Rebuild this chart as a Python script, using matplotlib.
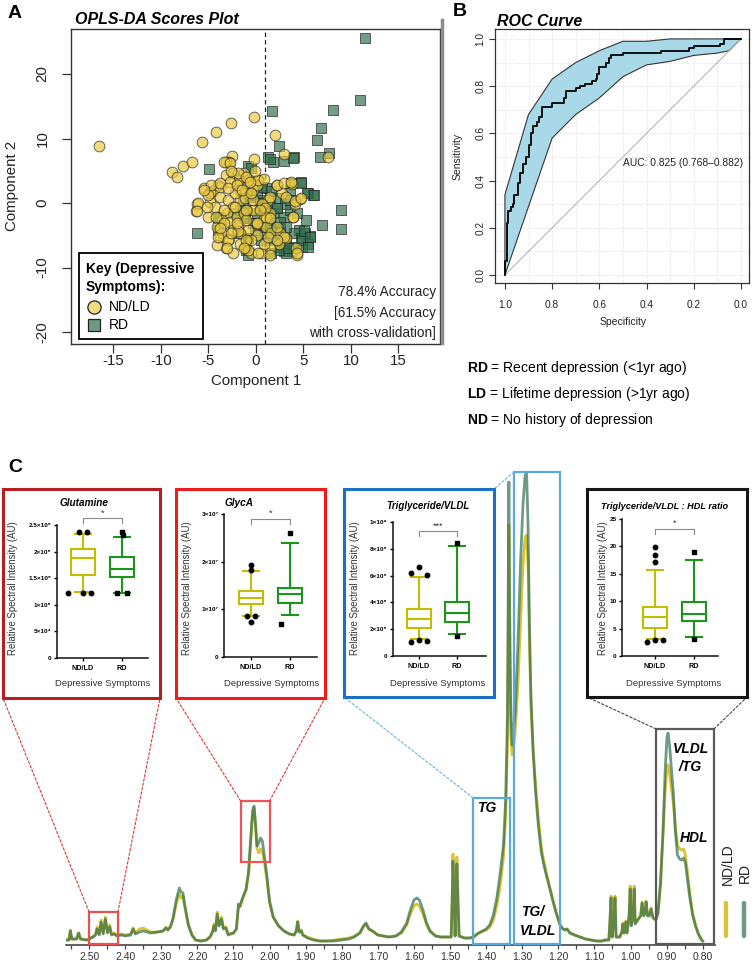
import matplotlib
matplotlib.use('Agg')
import matplotlib.pyplot as plt
from matplotlib.patches import Rectangle, ConnectionPatch
from matplotlib.lines import Line2D
import numpy as np

plt.rcParams['font.family'] = ['Liberation Sans', 'DejaVu Sans']
plt.rcParams['mathtext.fontset'] = 'custom'
plt.rcParams['mathtext.rm'] = 'Liberation Sans'
plt.rcParams['mathtext.bf'] = 'Liberation Sans:bold'
plt.rcParams['mathtext.it'] = 'Liberation Sans:italic'

# ---------------- DATA ----------------
# Panel A: OPLS-DA scores
ndld_x = [-16.5,-8.8,-8.3,-7.7,-6.7,-5.7,-4.2,-2.6,-0.2,2.0,2.9,-0.2,-2.5,-2.8,-3.2,-3.2,7.6,3.8,2.2,4.6,
          4.1,3.9,4.3,4.2,0.5,-0.5,-1.2,-3.2,-3.8,-2.8,-4.1,-5.1,-6.2,-6.3,-5.5,-4.8,-4.0,-4.5,-3.8,-2.9,
          -2.0,-1.3,-2.4,-1.8,-0.8,0.2,-0.3,-1.0,-1.7,-2.4,-3.1,-3.6,-2.7,-2.0,-1.3,-0.3,0.1,0.8,1.3,1.5,
          1.1,1.6,2.5,3.2,2.4,1.5,0.1,-0.8,-1.7,-2.4,-1.9,-1.0,-0.5,0.8,-3.8,-2.7,-1.7,-1.2,-4.8,-4.3,
          -3.4,-2.2,-0.3,0.6,0.9,0.1,2.7,3.2,-2.4,-1.7,-4.1,-3.6,
          -3.4,-2.7,-1.9,-1.0,0.2,-4.7,-3.8,-2.9,-2.0,-1.5,-0.5,-6.1,-6.2,-5.2,-4.2,-3.4,-4.0,-2.9,-1.9,-1.0,
          0.1,1.1,1.5,2.2,3.0,3.7,4.1,4.7,3.9,2.9,4.3,1.5,0.2,-0.8,-1.3,-3.1,-3.8,-5.0,-5.5,-2.6,
          -0.6,-0.1,0.8,-2.2,-1.0,0.4,1.5,2.2,-2.0,-2.6,1.3,2.2]
ndld_y = [8.9,4.8,4.1,5.8,6.3,9.4,11.0,12.4,13.3,10.5,7.6,6.8,7.3,6.3,6.3,4.3,7.2,3.0,2.8,0.6,
          -0.2,-2.1,-8.1,-7.0,-7.7,-7.8,-6.8,-7.0,-5.3,-5.6,-3.7,-2.1,-0.2,-1.2,2.3,0.1,2.8,1.9,1.0,0.5,
          3.0,4.6,4.6,3.6,3.6,3.6,2.0,1.5,0.5,-0.6,-1.6,-2.6,-2.9,-2.1,-1.6,-1.1,-3.2,-2.4,0.5,-1.6,
          -3.7,-4.7,-4.7,-5.5,-6.3,-7.0,-5.0,-4.2,-4.7,-4.2,-3.4,-2.6,-5.7,-6.3,2.5,3.3,2.0,0.7,1.5,-0.6,
          -1.1,1.5,0.5,-0.1,-0.8,2.8,1.5,1.0,-7.8,-6.3,-6.5,-4.7,
          6.4,6.2,4.6,4.1,3.6,2.8,3.1,2.3,2.8,2.0,1.5,0.0,-1.3,-0.6,-2.1,-3.1,-5.2,-5.7,-4.4,-5.7,
          -3.1,-2.1,1.0,2.8,3.1,3.2,0.3,0.7,-2.1,-5.2,-7.8,-8.1,-7.8,-7.3,-7.0,-7.0,-3.9,1.2,2.0,4.9,
          3.3,4.9,3.8,-0.6,-1.1,-1.1,-2.4,-3.7,-3.1,-4.7,-5.2,-5.7]
rd_x = [11.5,10.9,8.1,1.7,6.8,6.4,7.7,6.7,2.4,1.3,1.8,3.0,4.0,-4.9,-0.8,-0.5,4.7,5.5,6.0,3.6,
        8.9,9.0,7.0,5.7,5.5,5.3,4.5,4.0,3.2,2.9,2.5,1.8,2.2,2.9,3.6,1.8,1.5,1.1,0.4,0.1,
        -0.6,-1.0,-1.3,-0.8,-1.0,0.5,-6.2,-3.8,-4.0,-1.7,-1.4,2.4,3.1,3.6,4.3,5.2,4.8,3.8,1.6,1.1,
        0.8,1.5,2.5,3.2,4.0,4.7,-0.1,-2.4,-2.0,0.1,1.1,2.2,0.6,-0.8,3.2,
        1.5,3.9,3.7,4.7,5.4,6.1,1.6,2.2,-0.6,0.4,0.8,-1.2,-0.3,1.5,2.5,-0.8,-4.0,-1.0,2.4,3.4,
        4.8,5.5,5.1,5.7]
rd_y = [25.6,16.0,14.4,14.2,11.7,9.8,7.8,7.2,8.9,7.1,6.3,6.5,7.1,5.2,5.8,5.4,3.2,1.6,1.2,2.0,
        -1.1,-4.0,-3.4,-5.1,-6.3,-2.6,-4.2,-4.7,-5.7,-7.5,-6.8,-5.7,-3.7,-2.1,-1.1,-1.6,1.0,2.3,0.5,-1.6,
        1.0,-1.1,-2.4,-5.5,-7.3,-5.7,-4.7,-2.1,-4.2,-1.1,0.5,0.7,-0.1,0.5,-1.6,-4.7,-6.8,-7.5,-7.8,-4.7,
        -3.7,-2.9,-2.9,-3.7,-6.8,-5.5,-4.2,-1.6,-4.7,1.5,-0.6,-0.8,2.5,-8.1,-7.8,
        6.9,7.0,3.1,3.1,1.5,1.3,1.8,-0.8,1.2,0.0,-1.1,-2.4,-3.1,-4.2,-4.7,-5.4,-2.4,-6.8,-7.3,-7.0,
        -5.7,-6.8,-4.4,-5.2]
scores_xticks = [-15, -10, -5, 0, 5, 10, 15]
scores_yticks = [-20, -10, 0, 10, 20]
accuracy_lines = ['78.4% Accuracy', '[61.5% Accuracy', 'with cross-validation]']

# Panel B: ROC
roc_spec = [1.0,1.0,0.99,0.99,0.985,0.985,0.975,0.975,0.965,0.965,0.96,0.96,0.945,0.945,0.935,0.935,
            0.925,0.925,0.91,0.91,0.9,0.9,0.89,0.89,0.88,0.88,0.865,0.865,0.855,0.855,0.845,0.845,
            0.8,0.8,0.75,0.75,0.74,0.74,0.7,0.7,0.68,0.68,0.66,0.66,0.63,0.63,0.615,0.615,0.61,0.61,
            0.6,0.6,0.57,0.57,0.56,0.56,0.55,0.55,0.5,0.5,0.34,0.34,0.22,0.22,0.2,0.2,0.09,0.09,
            0.07,0.07,0.0]
roc_sens = [0.0,0.06,0.06,0.22,0.22,0.27,0.27,0.29,0.29,0.30,0.30,0.34,0.34,0.39,0.39,0.43,
            0.43,0.47,0.47,0.50,0.50,0.55,0.55,0.60,0.60,0.63,0.63,0.65,0.65,0.67,0.67,0.71,
            0.71,0.73,0.73,0.75,0.75,0.78,0.78,0.79,0.79,0.80,0.80,0.81,0.81,0.82,0.82,0.83,0.83,0.85,
            0.85,0.88,0.88,0.90,0.90,0.92,0.92,0.93,0.93,0.94,0.94,0.95,0.95,0.96,0.96,0.97,0.97,0.98,
            0.98,1.0,1.0]
ci_up_spec = [1.0, 1.0, 0.9, 0.8, 0.7, 0.6, 0.5, 0.4, 0.3, 0.2, 0.1, 0.0]
ci_up_sens = [0.0, 0.34, 0.68, 0.83, 0.90, 0.95, 0.99, 0.99, 1.0, 1.0, 1.0, 1.0]
ci_lo_spec = [1.0, 0.8, 0.7, 0.6, 0.5, 0.4, 0.3, 0.2, 0.1, 0.05, 0.0]
ci_lo_sens = [0.0, 0.58, 0.68, 0.75, 0.84, 0.89, 0.905, 0.93, 0.94, 0.95, 1.0]
roc_ticks = [1.0, 0.8, 0.6, 0.4, 0.2, 0.0]
auc_text = 'AUC: 0.825 (0.768\u20130.882)'

# Panel C: spectrum (ppm, relative intensity)
spec_ppm = [2.564,2.556,2.552,2.548,2.535,2.529,2.524,2.505,2.495,2.488,2.482,2.478,2.472,2.467,2.461,2.455,
            2.449,2.443,2.438,2.430,2.424,2.410,2.400,2.385,2.378,2.372,2.360,2.350,2.340,2.330,2.310,2.295,
            2.287,2.282,2.275,2.268,2.258,2.250,2.245,2.240,2.235,2.225,2.215,2.205,2.190,2.175,2.165,2.158,
            2.154,2.150,2.145,2.140,2.133,2.128,2.121,2.115,2.100,2.092,2.086,2.082,2.075,2.065,2.058,2.052,
            2.047,2.043,2.039,2.035,2.030,2.025,2.020,2.014,2.007,2.000,1.990,1.975,1.960,1.945,1.932,1.926,
            1.922,1.918,1.912,1.908,1.895,1.880,1.860,1.840,1.820,1.800,1.780,1.765,1.750,1.740,1.733,1.725,
            1.715,1.700,1.685,1.670,1.650,1.635,1.620,1.610,1.600,1.592,1.585,1.575,1.565,1.555,1.540,1.525,
            1.510,1.497,1.494,1.492,1.489,1.486,1.484,1.481,1.478,1.475,1.460,1.445,1.435,1.425,1.415,1.400,
            1.390,1.380,1.370,1.360,1.352,1.346,1.341,1.339,1.337,1.335,1.332,1.328,1.320,1.312,1.305,1.298,
            1.292,1.288,1.284,1.280,1.276,1.270,1.263,1.255,1.247,1.240,1.232,1.224,1.215,1.207,1.200,1.195,
            1.190,1.182,1.176,1.168,1.155,1.140,1.125,1.110,1.095,1.080,1.070,1.060,1.057,1.054,1.051,1.046,
            1.043,1.040,1.030,1.024,1.021,1.018,1.013,1.010,1.004,1.001,0.998,0.993,0.990,0.987,0.980,0.972,
            0.968,0.964,0.960,0.957,0.953,0.948,0.943,0.938,0.930,0.924,0.917,0.910,0.904,0.899,0.896,0.892,
            0.886,0.881,0.876,0.870,0.864,0.858,0.853,0.848,0.843,0.836,0.828,0.820,0.812,0.803,0.800]
spec_ndld = [5,5,15,6,6,12,6,5,7,9,11,18,11,25,12,28,
             13,20,11,12,10,11,10,11,17,12,16,17,15,13,13,14,
             18,15,18,25,42,51,47,49,38,20,10,5,4,5,8,14,
             21,15,33,20,28,17,18,11,12,16,40,38,46,55,72,105,
             132,137,120,97,92,96,93,82,64,42,28,19,14,11,10,14,
             24,13,15,10,8,6,4,4,5,6,7,9,12,18,21,16,
             14,10,9,8,9,12,20,31,39,41,39,31,20,13,9,8,
             8,8,50,91,50,9,45,88,45,9,7,7,8,11,13,15,
             18,25,40,62,88,128,200,300,420,300,210,190,210,260,320,380,
             408,410,380,300,240,195,160,125,98,83,70,58,45,34,26,20,
             17,15,16,12,10,8,6,5,4,4,5,5,25,49,8,25,
             49,8,8,13,22,12,24,12,30,59,20,30,59,22,25,30,
             43,30,32,44,30,30,37,28,25,32,60,110,155,178,180,172,
             155,140,118,100,96,95,96,90,75,52,32,20,11,5,4]
spec_rd = [5,5,14,6,6,12,6,5,7,8,10,16,10,23,11,26,
           12,18,10,11,9,10,9,10,16,11,13,14,13,12,13,14,
           17,15,18,26,46,57,53,52,40,20,10,5,4,5,8,13,
           19,14,31,19,26,16,17,10,12,16,41,39,47,56,74,108,
           134,139,121,99,102,107,104,88,68,44,28,19,14,11,10,14,
           23,13,14,10,7,5,4,4,4,5,6,8,12,19,22,16,
           14,10,9,8,9,13,22,35,45,47,45,35,22,14,9,8,
           8,8,45,84,45,9,42,81,42,9,7,7,8,11,13,16,
           20,30,48,75,100,145,230,340,463,340,240,200,230,300,380,440,
           470,472,420,320,250,195,152,118,92,80,68,57,44,33,25,20,
           17,15,16,12,10,8,6,5,4,4,5,5,24,47,8,24,
           47,8,8,13,21,12,23,12,28,56,19,28,56,21,25,29,
           42,29,31,43,29,29,36,27,25,32,62,114,175,208,212,200,
           172,150,115,90,86,85,87,82,68,48,30,19,11,5,4]
spec_ticks = [2.50,2.40,2.30,2.20,2.10,2.00,1.90,1.80,1.70,1.60,1.50,1.40,1.30,1.20,1.10,1.00,0.90,0.80]
# highlighted regions: (ppm_left, ppm_right, intensity_low, intensity_high)
reg_glutamine = (2.50, 2.42, 1, 33)
reg_glyca = (2.08, 2.00, 83, 144)
reg_tg = (1.436, 1.334, 1, 147)
reg_tgvldl = (1.323, 1.195, 1, 473)
reg_vldl_hdl = (0.929, 0.769, 1, 216)

# Box-plot insets (whislo, q1, med, q3, whishi)
groups = ['ND/LD', 'RD']
glut_nd = [1.24e5, 1.56e5, 1.88e5, 2.05e5, 2.33e5]
glut_rd = [1.23e5, 1.52e5, 1.67e5, 1.90e5, 2.28e5]
glut_fl_nd_x = [0.9, 1.1, 0.62, 1.0, 1.2]
glut_fl_nd_y = [2.36e5, 2.36e5, 1.22e5, 1.23e5, 1.22e5]
glut_fl_rd_x = [2.0, 2.02, 1.87, 2.13]
glut_fl_rd_y = [2.36e5, 2.31e5, 1.23e5, 1.23e5]
glut_ticks = [0, 5e4, 1e5, 1.5e5, 2e5, 2.5e5]
glut_ticklabels = ['0', '5\u00d710\u2074', '1\u00d710\u2075', '1.5\u00d710\u2075', '2\u00d710\u2075', '2.5\u00d710\u2075']

glyca_nd = [0.86e7, 1.11e7, 1.24e7, 1.38e7, 1.80e7]
glyca_rd = [0.88e7, 1.13e7, 1.32e7, 1.45e7, 2.39e7]
glyca_fl_nd_x = [1.0, 1.0, 0.9, 1.1, 1.0]
glyca_fl_nd_y = [1.93e7, 1.82e7, 0.85e7, 0.85e7, 0.73e7]
glyca_fl_rd_x = [2.0, 1.77]
glyca_fl_rd_y = [2.6e7, 0.69e7]
glyca_ticks = [0, 1e7, 2e7, 3e7]
glyca_ticklabels = ['0', '1\u00d710\u2077', '2\u00d710\u2077', '3\u00d710\u2077']

tg_nd = [1.24e8, 2.09e8, 2.76e8, 3.50e8, 5.90e8]
tg_rd = [1.64e8, 2.54e8, 3.20e8, 4.03e8, 8.20e8]
tg_fl_nd_x = [1.0, 0.79, 1.21, 0.79, 1.0, 1.21]
tg_fl_nd_y = [6.64e8, 6.19e8, 6.04e8, 1.02e8, 1.17e8, 1.12e8]
tg_fl_rd_x = [2.0, 2.0]
tg_fl_rd_y = [8.4e8, 1.49e8]
tg_ticks = [0, 2e8, 4e8, 6e8, 8e8, 1e9]
tg_ticklabels = ['0', '2\u00d710\u2078', '4\u00d710\u2078', '6\u00d710\u2078', '8\u00d710\u2078', '1\u00d710\u2079']

ratio_nd = [3.1, 5.1, 7.1, 8.95, 15.7]
ratio_rd = [3.4, 6.4, 7.6, 9.9, 17.6]
ratio_fl_nd_x = [1.0, 1.0, 1.0, 0.79, 1.0, 1.21]
ratio_fl_nd_y = [19.9, 18.4, 17.2, 2.55, 3.0, 2.9]
ratio_fl_rd_x = [2.0, 2.0]
ratio_fl_rd_y = [19.0, 3.1]
ratio_ticks = [0, 5, 10, 15, 20, 25]
ratio_ticklabels = ['0', '5', '10', '15', '20', '25']

# ---------------- FIGURE ----------------
W, H = 752, 967
fig = plt.figure(figsize=(W / 100, H / 100), dpi=100)
fig.patch.set_facecolor('white')


def px_axes(x0, y0, x1, y1):
    return fig.add_axes([x0 / W, 1 - y1 / H, (x1 - x0) / W, (y1 - y0) / H])


def ftext(x, y, s, **kw):
    return fig.text(x / W, 1 - y / H, s, **kw)


def fline(xs, ys, **kw):
    fig.add_artist(Line2D([x / W for x in xs], [1 - y / H for y in ys], transform=fig.transFigure, **kw))


# ---- Panel A ----
axA = px_axes(71, 29, 440, 344)
axA.scatter(rd_x, rd_y, marker='s', s=48, facecolor='#316f4c', alpha=0.68,
            edgecolor='#222222', linewidth=0.7, zorder=3)
axA.scatter(ndld_x, ndld_y, marker='o', s=60, facecolor='#e9c940', alpha=0.68,
            edgecolor='#222222', linewidth=0.7, zorder=4)
axA.axvline(1.0, color='#222222', lw=0.9, ls=(0, (3.5, 2.5)), zorder=2)
axA.set_xlim(-19.47, 19.37)
axA.set_ylim(-21.86, 26.98)
axA.set_xticks(scores_xticks)
axA.set_yticks(scores_yticks)
axA.set_xticklabels([str(v) for v in scores_xticks])
axA.set_yticklabels([str(v) for v in scores_yticks])
axA.tick_params(axis='both', length=6.5, width=0.9, color='#333333', labelsize=10.8, labelcolor='#222222')
axA.tick_params(axis='x', pad=1)
axA.tick_params(axis='y', pad=9)
for lab in axA.get_yticklabels():
    lab.set_rotation(90)
    lab.set_va('center')
for sp in axA.spines.values():
    sp.set_color('#333333')
    sp.set_linewidth(1.0)
ftext(256, 381, 'Component 1', ha='center', va='center', fontsize=10.8, color='#222222')
ftext(12, 186, 'Component 2', ha='center', va='center', fontsize=10.8, rotation=90, color='#222222')
ftext(8, 13, 'A', ha='left', va='center', fontsize=14, fontweight='bold')
ftext(75, 20, 'OPLS-DA Scores Plot', ha='left', va='center', fontsize=11.5,
      fontweight='bold', fontstyle='italic')
for txt, yy in zip(accuracy_lines, [292, 313, 333]):
    ftext(436, yy, txt, ha='right', va='center', fontsize=9.8, color='#222222')
# legend box
fig.add_artist(Rectangle((79 / W, 1 - 339 / H), 124 / W, 86 / H, transform=fig.transFigure,
                         facecolor='white', edgecolor='black', linewidth=1.3, zorder=5))
ftext(86, 269, 'Key (Depressive', ha='left', va='center', fontsize=10, fontweight='bold', zorder=6)
ftext(86, 287, 'Symptoms):', ha='left', va='center', fontsize=10, fontweight='bold', zorder=6)
fig.add_artist(Line2D([94 / W], [1 - 307 / H], marker='o', ms=9.5, mfc='#f2dc82', mec='#222222',
                      mew=0.9, transform=fig.transFigure, zorder=6))
fig.add_artist(Line2D([94 / W], [1 - 325 / H], marker='s', ms=8.5, mfc='#6f9a82', mec='#222222',
                      mew=0.9, transform=fig.transFigure, zorder=6))
ftext(109, 307, groups[0], ha='left', va='center', fontsize=10, zorder=6)
ftext(109, 325, groups[1], ha='left', va='center', fontsize=10, zorder=6)
fline([442, 442], [20, 343], color='#8c8c8c', lw=2.5)

# ---- Panel B ----
axB = px_axes(495, 29, 749, 283)
for v in np.arange(0, 1.01, 0.1):
    axB.axvline(v, color='#dcdcdc', lw=0.7, ls=':', zorder=0)
    axB.axhline(v, color='#dcdcdc', lw=0.7, ls=':', zorder=0)
poly_x = list(ci_up_spec) + list(ci_lo_spec[::-1])
poly_y = list(ci_up_sens) + list(ci_lo_sens[::-1])
axB.fill(poly_x, poly_y, facecolor='#a9d9e8', edgecolor='#333333', linewidth=0.8, zorder=1)
axB.plot([1, 0], [0, 1], color='#b5b5b5', lw=0.8, zorder=2)
axB.plot(roc_spec, roc_sens, color='black', lw=1.3, zorder=3)
axB.set_xlim(1.042, -0.034)
axB.set_ylim(-0.034, 1.042)
axB.set_xticks(roc_ticks)
axB.set_yticks(roc_ticks)
axB.set_xticklabels(['%.1f' % v for v in roc_ticks])
axB.set_yticklabels(['%.1f' % v for v in roc_ticks])
axB.tick_params(axis='both', length=4, width=0.8, color='#333333', labelsize=7.3, labelcolor='#222222')
axB.tick_params(axis='x', pad=8)
axB.tick_params(axis='y', pad=3)
for lab in axB.get_yticklabels():
    lab.set_rotation(90)
    lab.set_va('center')
for sp in axB.spines.values():
    sp.set_color('#333333')
    sp.set_linewidth(0.9)
axB.text(0.5, 0.475, auc_text, ha='left', va='center', fontsize=7.4, color='#222222', zorder=4)
ftext(623, 322, 'Specificity', ha='center', va='center', fontsize=7.5, color='#222222')
ftext(458, 156, 'Sensitivity', ha='center', va='center', fontsize=7.5, rotation=90, color='#222222')
ftext(453, 11, 'B', ha='left', va='center', fontsize=14, fontweight='bold')
ftext(497, 21, 'ROC Curve', ha='left', va='center', fontsize=11.5, fontweight='bold', fontstyle='italic')

ftext(467, 368, r'$\mathbf{RD}$ = Recent depression (<1yr ago)', ha='left', va='center', fontsize=10)
ftext(467, 394, r'$\mathbf{LD}$ = Lifetime depression (>1yr ago)', ha='left', va='center', fontsize=10)
ftext(467, 420, r'$\mathbf{ND}$ = No history of depression', ha='left', va='center', fontsize=10)

# ---- Panel C: spectrum ----
ftext(8, 467, 'C', ha='left', va='center', fontsize=14, fontweight='bold')
axS = px_axes(66, 465, 715, 945)
axS.set_zorder(1)
axS.patch.set_alpha(0)
axS.plot(spec_ppm, spec_ndld, color='#d8c437', lw=2.0, zorder=2, solid_joinstyle='round')
axS.plot(spec_ppm, spec_rd, color='#2a6a4d', lw=2.0, alpha=0.68, zorder=3, solid_joinstyle='round')
axS.set_xlim(2.564, 0.766)
axS.set_ylim(0, 480)
for sp in ['left', 'right', 'top']:
    axS.spines[sp].set_visible(False)
axS.spines['bottom'].set_color('#444444')
axS.spines['bottom'].set_linewidth(1.2)
axS.set_yticks([])
axS.set_xticks(spec_ticks)
axS.set_xticklabels(['%.2f' % v for v in spec_ticks])
axS.set_xticks(np.arange(0.85, 2.56, 0.1), minor=True)
axS.tick_params(axis='x', which='both', length=3, width=0.9, color='#444444', labelsize=7.5,
                labelcolor='#333333', pad=2)

regions = [(reg_glutamine, '#ec4f4f'), (reg_glyca, '#ef5555'), (reg_tg, '#5aa8de'),
           (reg_tgvldl, '#5aa8de'), (reg_vldl_hdl, '#5a5a5a')]
for (p0, p1, i0, i1), col in regions:
    axS.add_patch(Rectangle((p0, i0), p1 - p0, i1 - i0, fill=False, edgecolor=col, lw=1.6,
                            zorder=4, clip_on=False))

ftext(487, 808, 'TG', ha='center', va='center', fontsize=10, fontweight='bold', fontstyle='italic')
ftext(521, 912, 'TG/', ha='left', va='center', fontsize=10, fontweight='bold', fontstyle='italic')
ftext(520, 931, 'VLDL', ha='left', va='center', fontsize=10, fontweight='bold', fontstyle='italic')
ftext(673, 749, 'VLDL', ha='left', va='center', fontsize=10, fontweight='bold', fontstyle='italic')
ftext(679, 767, '/TG', ha='left', va='center', fontsize=10, fontweight='bold', fontstyle='italic')
ftext(694, 838, 'HDL', ha='center', va='center', fontsize=10, fontweight='bold', fontstyle='italic')
ftext(728, 864, groups[0], ha='center', va='center', fontsize=10, rotation=90, color='#222222')
ftext(745, 873, groups[1], ha='center', va='center', fontsize=10, rotation=90, color='#222222')
fline([726, 726], [903, 936], color='#d6c43a', lw=3.2, solid_capstyle='round')
fline([744, 744], [903, 936], color='#6e9a86', lw=3.2, solid_capstyle='round')

ND_COL = '#c4bc00'
RD_COL = '#1a961a'


def inset(frame_px, frame_col, ax_px, xlim, ylim, ticks, ticklabels, nd, rd,
          fnx, fny, frx, fry, title, title_x, title_y, title_fs, br_y, stars,
          ylab_x, xlab_x):
    fr = px_axes(*frame_px)
    fr.set_zorder(2)
    fr.set_xticks([])
    fr.set_yticks([])
    fr.set_facecolor('white')
    for sp in fr.spines.values():
        sp.set_color(frame_col)
        sp.set_linewidth(2.2)
    ax = px_axes(*ax_px)
    ax.set_zorder(3)
    ax.patch.set_alpha(0)
    stats = []
    for vals, lab in zip([nd, rd], groups):
        stats.append(dict(whislo=vals[0], q1=vals[1], med=vals[2], q3=vals[3], whishi=vals[4],
                          fliers=[], label=lab))
    res = ax.bxp(stats, positions=[1, 2], widths=0.64, capwidths=0.42, showfliers=False,
                 patch_artist=True)
    for i, col in enumerate([ND_COL, RD_COL]):
        res['boxes'][i].set(facecolor='white', edgecolor=col, linewidth=1.5)
        res['medians'][i].set(color=col, linewidth=1.5)
        for k in (2 * i, 2 * i + 1):
            res['whiskers'][k].set(color=col, linewidth=1.5)
            res['caps'][k].set(color=col, linewidth=1.5)
    ax.plot(fnx, fny, 'o', color='black', ms=3.2, clip_on=False, zorder=5)
    ax.plot(frx, fry, 's', color='black', ms=3.0, clip_on=False, zorder=5)
    ax.set_xlim(*xlim)
    ax.set_ylim(*ylim)
    ax.set_yticks(ticks)
    ax.set_yticklabels(ticklabels)
    ax.set_xticks([1, 2])
    ax.set_xticklabels(groups)
    for sp in ['top', 'right']:
        ax.spines[sp].set_visible(False)
    for sp in ['left', 'bottom']:
        ax.spines[sp].set_linewidth(1.1)
        ax.spines[sp].set_color('#111111')
    ax.tick_params(axis='y', length=2.5, width=1, labelsize=4.6, pad=1.5)
    ax.tick_params(axis='x', length=2.5, width=1, labelsize=5.2, pad=2.5)
    for lab in ax.get_yticklabels() + ax.get_xticklabels():
        lab.set_fontweight('bold')
    d = 0.035 * ylim[1]
    ax.plot([1, 1, 2, 2], [br_y - d, br_y, br_y, br_y - d], color='#8a8a8a', lw=0.8, clip_on=False)
    ax.text(1.5, br_y + 0.005 * ylim[1], stars, ha='center', va='bottom', fontsize=6.5, color='#333333')
    ftext(title_x, title_y, title, ha='center', va='center', fontsize=title_fs, fontweight='bold',
          fontstyle='italic', zorder=6)
    ftext(ylab_x, 588, 'Relative Spectral Intensity (AU)', ha='center', va='center', fontsize=6.9,
          rotation=90, color='#333333', zorder=6)
    ftext(xlab_x, 683, 'Depressive Symptoms', ha='center', va='center', fontsize=6.8,
          color='#333333', zorder=6)
    return fr


fr1 = inset((3, 489, 160, 698), '#b51f1f', (57, 525, 148, 658), (0.333, 2.667), (0, 2.5e5),
            glut_ticks, glut_ticklabels, glut_nd, glut_rd, glut_fl_nd_x, glut_fl_nd_y,
            glut_fl_rd_x, glut_fl_rd_y, 'Glutamine', 84, 503, 7.2, 2.63e5, '*', 13, 103)
fr2 = inset((176, 489, 325, 698), '#f01c1c', (224, 514, 317, 657), (0.308, 2.692), (0, 3e7),
            glyca_ticks, glyca_ticklabels, glyca_nd, glyca_rd, glyca_fl_nd_x, glyca_fl_nd_y,
            glyca_fl_rd_x, glyca_fl_rd_y, 'GlycA', 239, 503, 7.2, 2.9e7, '*', 187, 272)
fr3 = inset((344, 489, 494, 697), '#1c70c2', (393, 522, 486, 656), (0.316, 2.763), (0, 1e9),
            tg_ticks, tg_ticklabels, tg_nd, tg_rd, tg_fl_nd_x, tg_fl_nd_y,
            tg_fl_rd_x, tg_fl_rd_y, 'Triglyceride/VLDL', 428, 506, 7.0, 0.93e9, '***', 355, 438)
fr4 = inset((587, 489, 747, 697), '#151515', (622, 519, 718, 656), (0.154, 2.615), (0, 25),
            ratio_ticks, ratio_ticklabels, ratio_nd, ratio_rd, ratio_fl_nd_x, ratio_fl_nd_y,
            ratio_fl_rd_x, ratio_fl_rd_y, 'Triglyceride/VLDL : HDL ratio', 665, 506, 6.6, 23.2, '*', 603, 674)

# connectors
conns = [((reg_glutamine[0], reg_glutamine[3]), fr1, (0, 0), '#e03535'),
         ((reg_glutamine[1], reg_glutamine[3]), fr1, (1, 0), '#e03535'),
         ((reg_glyca[0], reg_glyca[3]), fr2, (0, 0), '#e03535'),
         ((reg_glyca[1], reg_glyca[3]), fr2, (1, 0), '#e03535'),
         ((reg_tg[0], reg_tg[3]), fr3, (0, 0), '#6fb4e2'),
         ((reg_tgvldl[0], reg_tgvldl[3]), fr3, (1, 1), '#6fb4e2'),
         ((reg_vldl_hdl[0], reg_vldl_hdl[3]), fr4, (0, 0), '#444444'),
         ((reg_vldl_hdl[1], reg_vldl_hdl[3]), fr4, (1, 0), '#444444')]
for xyA, frx, xyB, col in conns:
    cp = ConnectionPatch(xyA=xyA, coordsA=axS.transData, xyB=xyB, coordsB=frx.transAxes,
                         color=col, lw=0.8, ls=(0, (2.2, 1.8)))
    cp.set_zorder(1.5)
    fig.add_artist(cp)

fig.savefig('out.png', dpi=100, facecolor='white')
